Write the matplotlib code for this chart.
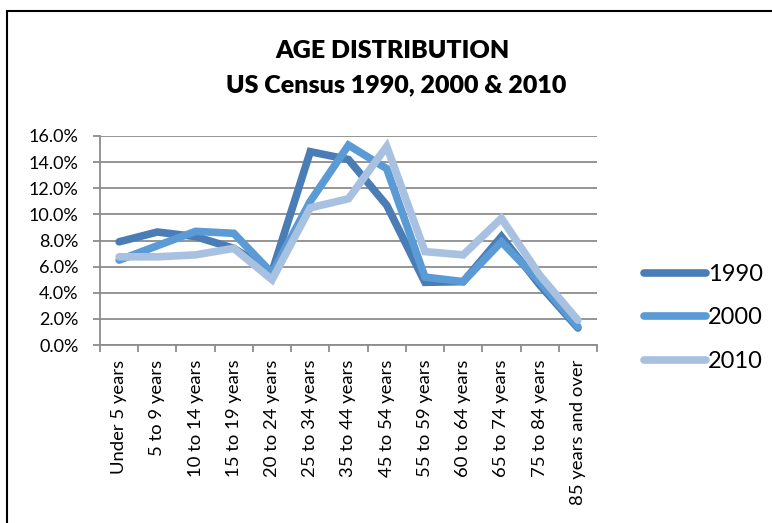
import matplotlib.pyplot as plt
from matplotlib.patches import Rectangle
from matplotlib.ticker import FuncFormatter, MultipleLocator

plt.rcParams['font.family'] = ['Lato', 'DejaVu Sans']

categories = ["Under 5 years", "5 to 9 years", "10 to 14 years", "15 to 19 years",
              "20 to 24 years", "25 to 34 years", "35 to 44 years", "45 to 54 years",
              "55 to 59 years", "60 to 64 years", "65 to 74 years", "75 to 84 years",
              "85 years and over"]
pct_1990 = [7.9, 8.65, 8.3, 7.4, 5.6, 14.8, 14.2, 10.7, 4.8, 4.85, 8.3, 4.6, 1.3]
pct_2000 = [6.5, 7.6, 8.7, 8.55, 5.5, 11.0, 15.3, 13.5, 5.2, 4.85, 7.9, 4.85, 1.4]
pct_2010 = [6.75, 6.75, 6.9, 7.4, 5.0, 10.5, 11.2, 15.2, 7.15, 6.9, 9.7, 5.35, 1.9]
series = [("1990", pct_1990, "#4a7db6"),
          ("2000", pct_2000, "#5b9bd5"),
          ("2010", pct_2010, "#a9c1e1")]

fig = plt.figure(figsize=(7.72, 5.23), dpi=100)
# chart border (cropped at right and bottom in the original)
fig.patches.append(Rectangle((7 / 772, -0.1), 1.2, 1.1 - 11 / 523,
                             transform=fig.transFigure, fill=False,
                             edgecolor="black", linewidth=1.5))

ax = fig.add_axes([100 / 772, 1 - 345 / 523, 497 / 772, 209 / 523])
x = list(range(len(categories)))
for name, vals, col in series:
    ax.plot(x, vals, color=col, linewidth=5.5, solid_capstyle="round",
            solid_joinstyle="miter", label=name)

ax.set_xlim(-0.5, len(categories) - 0.5)
ax.set_ylim(0, 16)
ax.yaxis.set_major_locator(MultipleLocator(2))
ax.yaxis.set_major_formatter(FuncFormatter(lambda v, p: f"{v:.1f}%"))
ax.grid(axis="y", color="#8c8c8c", linewidth=1.3)
ax.set_axisbelow(True)

ax.set_xticks([i - 0.5 for i in range(len(categories) + 1)])
ax.set_xticklabels([])
ax.set_xticks(x, minor=True)
ax.set_xticklabels(categories, minor=True, rotation=90, fontsize=13.3)
ax.tick_params(axis="x", which="minor", length=0, pad=10.5)
ax.tick_params(axis="x", which="major", length=5, color="#8c8c8c", width=1.3)
ax.tick_params(axis="y", length=5, color="#8c8c8c", width=1.3, labelsize=13, pad=10.5)

for s in ["top", "right"]:
    ax.spines[s].set_visible(False)
for s in ["left", "bottom"]:
    ax.spines[s].set_color("#8c8c8c")
    ax.spines[s].set_linewidth(1.3)

fig.text(0.508, 1 - 51 / 523, "AGE DISTRIBUTION", ha="center", va="center",
         fontsize=18, fontweight="heavy")
fig.text(0.513, 1 - 85 / 523, "US Census 1990, 2000 & 2010", ha="center", va="center",
         fontsize=18, fontweight="heavy")

fig.legend(loc="center left", bbox_to_anchor=(623 / 772, 1 - 318 / 523),
           frameon=False, fontsize=17, handlelength=2.6, labelspacing=0.95,
           handletextpad=0.1)

plt.savefig("out.png", dpi=100)
